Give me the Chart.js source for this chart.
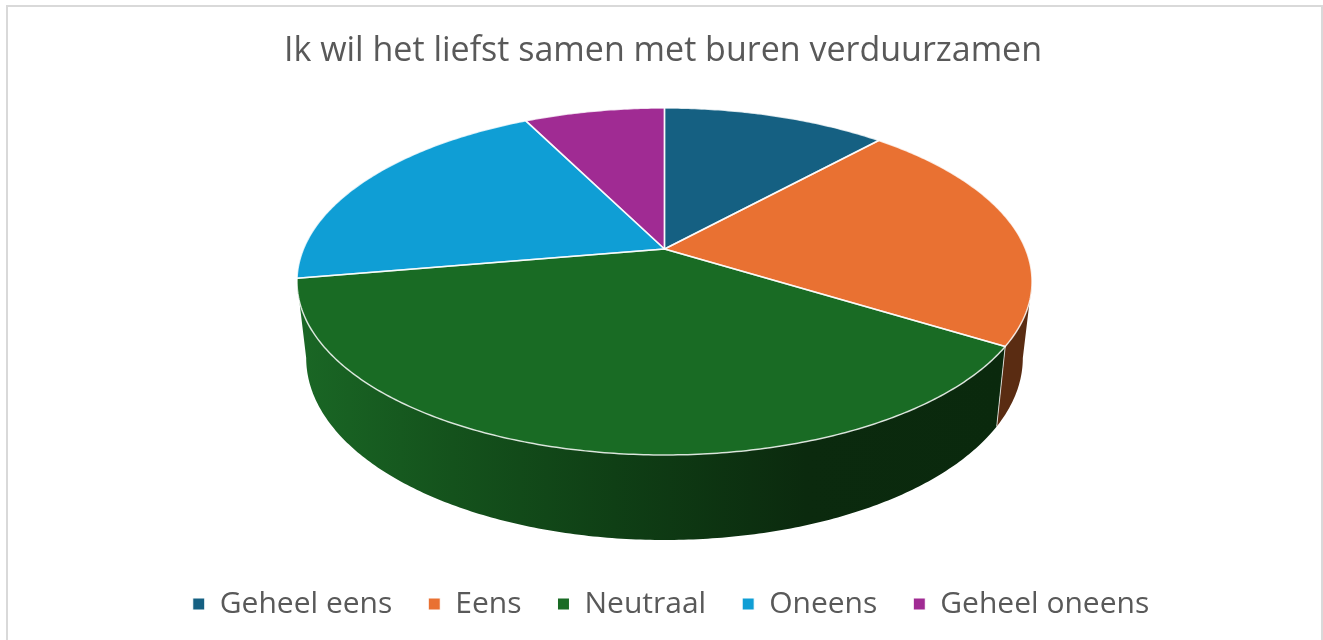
<!DOCTYPE html>
<html><head><meta charset="utf-8">
<style>
html,body{margin:0;padding:0;background:#fff;overflow:hidden}
#frame{position:absolute;left:6px;top:5px;width:1313px;height:700px;border:2px solid #d9d9d9;box-sizing:content-box}
#c{position:absolute;left:0;top:0}
</style>
<script src="https://cdn.jsdelivr.net/npm/chart.js@4"></script>
</head><body>
<div id="frame"></div>
<canvas id="c" width="1323" height="640"></canvas>
<script>
const titleText = 'Ik wil het liefst samen met buren verduurzamen';
const categories = ['Geheel eens','Eens','Neutraal','Oneens','Geheel oneens'];
const values = [11.8,22.0,38.5,20.3,7.4];
const colors = ['#156082','#E97132','#196B24','#0F9ED5','#A02B93'];
const wallColors = ['#0a2f40','#5a2c12',null,'#074e6a','#4f1549'];

// perspective view of the pie disc
const view = {cx:664.5, cy:249, rx:361, ry:167.4, k:0.1873, s:0.975, d0:74.4, d1:10.6};
function topPt(a){
  const w = 1 - view.k*Math.sin(a);
  return [view.cx + view.rx*Math.cos(a)/w, view.cy + view.ry*Math.sin(a)/w];
}
function botPt(a){
  const p = topPt(a);
  return [view.cx + (p[0]-view.cx)*view.s, p[1] + view.d0 + view.d1*Math.sin(a)];
}
function arcPath(ctx, fn, a0, a1, first){
  const n = Math.max(8, Math.ceil(Math.abs(a1-a0)*90));
  for(let i=0;i<=n;i++){
    const p = fn(a0+(a1-a0)*i/n);
    if(i===0 && first) ctx.moveTo(p[0],p[1]); else ctx.lineTo(p[0],p[1]);
  }
}
const pie3d = {
  id:'pie3d',
  afterLayout(chart){
    chart.legend.left += 9.5; chart.legend.right += 9.5;
    chart.titleBlock.left += 1.5; chart.titleBlock.right += 1.5;
  },
  beforeDatasetsDraw(chart){
    const ctx = chart.ctx, arcs = chart.getDatasetMeta(0).data;
    const aR = Math.asin(view.k), aL = Math.PI - aR; // front-facing part of the rim
    ctx.save();
    ctx.lineJoin = 'round';
    arcs.forEach((el,i)=>{
      const a0 = Math.max(el.startAngle, aR), a1 = Math.min(el.endAngle, aL);
      if(a1 <= a0) return;
      ctx.beginPath();
      arcPath(ctx, topPt, a0, a1, true);
      arcPath(ctx, botPt, a1, a0, false);
      ctx.closePath();
      if(i===2){
        const g = ctx.createLinearGradient(297,0,1003,0);
        g.addColorStop(0,'#1a6725');
        g.addColorStop(0.22,'#14521c');
        g.addColorStop(0.45,'#0f3f15');
        g.addColorStop(0.72,'#0b2a0e');
        g.addColorStop(1,'#0a290d');
        ctx.fillStyle = g;
      } else ctx.fillStyle = wallColors[i];
      ctx.fill();
    });
    // wall edge between the two visible walls
    ctx.strokeStyle='rgba(255,255,255,0.75)';
    ctx.lineWidth=1;
    const p=topPt(arcs[1].endAngle), q=botPt(arcs[1].endAngle);
    ctx.beginPath(); ctx.moveTo(p[0],p[1]); ctx.lineTo(q[0],q[1]); ctx.stroke();
    // top faces
    arcs.forEach((el,i)=>{
      ctx.beginPath();
      ctx.moveTo(view.cx, view.cy);
      arcPath(ctx, topPt, el.startAngle, el.endAngle, false);
      ctx.closePath();
      ctx.fillStyle = colors[i];
      ctx.fill();
    });
    arcs.forEach(el=>{
      ctx.beginPath();
      ctx.moveTo(view.cx, view.cy);
      arcPath(ctx, topPt, el.startAngle, el.endAngle, false);
      ctx.closePath();
      ctx.strokeStyle='rgba(255,255,255,0.8)';
      ctx.lineWidth=1.5;
      ctx.stroke();
    });
    ctx.restore();
    return false;
  }
};
new Chart(document.getElementById('c'),{
  type:'pie',
  data:{labels:categories,datasets:[{data:values,backgroundColor:colors,borderColor:'#fff',borderWidth:1}]},
  options:{
    responsive:false,animation:false,
    layout:{padding:{top:31,bottom:11}},
    plugins:{
      tooltip:{enabled:false},
      title:{display:true,text:titleText,color:'#595959',padding:{top:0,bottom:0},
        font:{family:'"Open Sans"',size:34,weight:'normal'}},
      legend:{position:'bottom',
        labels:{boxWidth:12,boxHeight:12,padding:36,color:'#595959',
          font:{family:'"Open Sans"',size:30}}}
    }
  },
  plugins:[pie3d]
});
</script>
</body></html>
